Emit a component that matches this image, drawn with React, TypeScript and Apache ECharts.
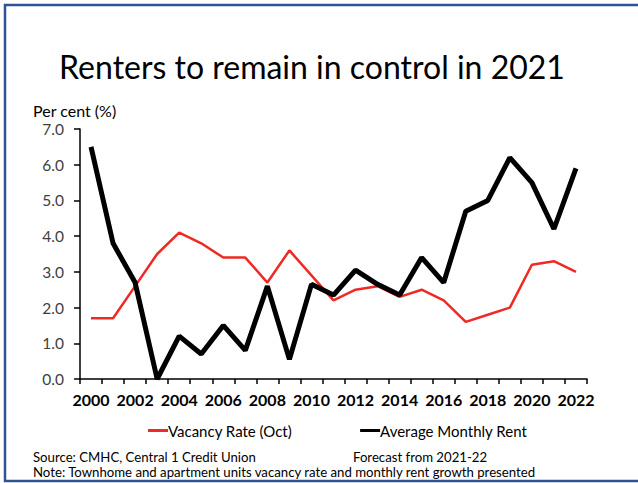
import React, { useEffect, useRef } from "react";
import * as echarts from "echarts";

const years = ["2000","2001","2002","2003","2004","2005","2006","2007","2008","2009","2010","2011","2012","2013","2014","2015","2016","2017","2018","2019","2020","2021","2022"];
const vacancyRate = [1.7, 1.7, 2.6, 3.5, 4.1, 3.8, 3.4, 3.4, 2.7, 3.6, 2.9, 2.2, 2.5, 2.6, 2.3, 2.5, 2.2, 1.6, 1.8, 2.0, 3.2, 3.3, 3.0];
const avgMonthlyRent = [6.5, 3.8, 2.7, 0.0, 1.2, 0.7, 1.5, 0.8, 2.6, 0.55, 2.65, 2.35, 3.05, 2.65, 2.35, 3.4, 2.7, 4.7, 5.0, 6.2, 5.5, 4.2, 5.9];
const yTicks = [0, 1, 2, 3, 4, 5, 6, 7];

const FONT = "Lato";

export default function App() {
  const ref = useRef<HTMLDivElement>(null);
  useEffect(() => {
    if (!ref.current) return;
    const chart = echarts.init(ref.current, null, { renderer: "svg" });
    chart.setOption({
      animation: false,
      backgroundColor: "#ffffff",
      textStyle: { fontFamily: FONT },
      grid: { left: 80, right: 51, top: 129, bottom: 104, containLabel: false },
      xAxis: {
        type: "category",
        data: years,
        boundaryGap: true,
        axisLine: { lineStyle: { color: "#000", width: 1.5 } },
        axisTick: { show: true, interval: 0, length: 5, lineStyle: { color: "#000", width: 1.5 } },
        axisLabel: {
          interval: 1,
          fontFamily: FONT,
          fontSize: 16,
          fontWeight: "bold",
          color: "#000",
          margin: 12,
        },
        splitLine: { show: false },
      },
      yAxis: {
        type: "value",
        min: yTicks[0],
        max: yTicks[yTicks.length - 1],
        interval: 1,
        axisLine: { show: true, lineStyle: { color: "#000", width: 1.5 } },
        axisTick: { show: true, length: 6, lineStyle: { color: "#000", width: 1.5 } },
        axisLabel: {
          fontFamily: FONT,
          fontSize: 15.5,
          color: "#404040",
          margin: 16,
          formatter: (v: number) => v.toFixed(1),
        },
        splitLine: { show: false },
      },
      legend: {
        left: 143,
        top: 418,
        itemGap: 68,
        itemWidth: 20,
        itemHeight: 3,
        icon: "rect",
        textStyle: { fontFamily: FONT, fontSize: 15, color: "#000", padding: [0, 0, 0, -5] },
        data: ["Vacancy Rate (Oct)", "Average Monthly Rent"],
      },
      series: [
        {
          name: "Vacancy Rate (Oct)",
          type: "line",
          data: vacancyRate,
          symbol: "none",
          lineStyle: { color: "#EE2A24", width: 2.5 },
          itemStyle: { color: "#EE2A24" },
          z: 2,
        },
        {
          name: "Average Monthly Rent",
          type: "line",
          data: avgMonthlyRent,
          symbol: "none",
          lineStyle: { color: "#000", width: 5 },
          itemStyle: { color: "#000" },
          z: 3,
        },
      ],
      graphic: [
        {
          type: "rect",
          shape: { x: 5, y: 5, width: 660, height: 476 },
          style: { fill: "none", stroke: "#2F5496", lineWidth: 2.5 },
          silent: true,
        },
        {
          type: "text",
          x: 312,
          y: 66,
          style: {
            text: "Renters to remain in control in 2021",
            fontFamily: FONT,
            fontSize: 32,
            fill: "#000",
            align: "center",
            verticalAlign: "middle",
          },
        },
        {
          type: "text",
          x: 33,
          y: 110,
          style: {
            text: "Per cent (%)",
            fontFamily: FONT,
            fontSize: 16,
            fill: "#000",
            align: "left",
            verticalAlign: "middle",
          },
        },
        {
          type: "text",
          x: 33,
          y: 457,
          style: {
            text: "Source: CMHC, Central 1 Credit Union",
            fontFamily: FONT,
            fontSize: 13.2,
            fill: "#000",
            align: "left",
            verticalAlign: "middle",
          },
        },
        {
          type: "text",
          x: 353,
          y: 457,
          style: {
            text: "Forecast from 2021-22",
            fontFamily: FONT,
            fontSize: 13.2,
            fill: "#000",
            align: "left",
            verticalAlign: "middle",
          },
        },
        {
          type: "text",
          x: 33,
          y: 472,
          style: {
            text: "Note: Townhome and apartment units vacancy rate and monthly rent growth presented",
            fontFamily: FONT,
            fontSize: 13.2,
            fill: "#000",
            align: "left",
            verticalAlign: "middle",
          },
        },
      ],
    });
    return () => chart.dispose();
  }, []);
  return (
    <div
      ref={ref}
      style={{ position: "fixed", left: 0, top: 0, width: 638, height: 483 }}
    />
  );
}
